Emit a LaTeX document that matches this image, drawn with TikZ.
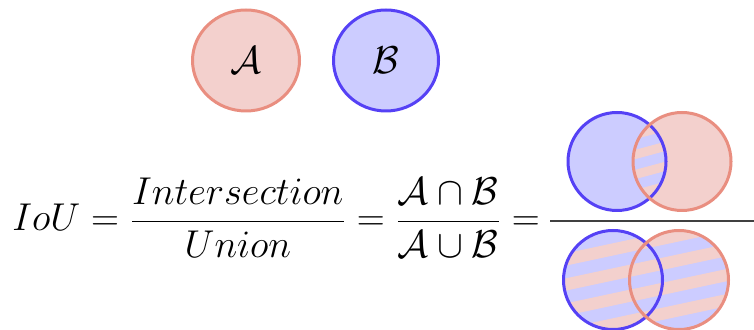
\RequirePackage{fix-cm}
\documentclass[tikz,border=0pt]{standalone}
\usetikzlibrary{shapes.geometric}
\definecolor{sfill}{RGB}{243,208,205}
\definecolor{sline}{RGB}{233,142,128}
\definecolor{bfill}{RGB}{204,204,255}
\definecolor{bline}{RGB}{85,65,245}
\begin{document}
\begin{tikzpicture}[x=0.5pt,y=-0.5pt,
  setA/.style={ellipse, draw=sline, fill=sfill, line width=1.5pt, inner sep=0pt},
  setB/.style={ellipse, draw=bline, fill=bfill, line width=1.5pt, inner sep=0pt},
  bigtext/.style={font=\fontsize{19.4}{23}\selectfont},
  stripe/.style={draw=sfill, line width=4.5pt},
  wstripe/.style={draw=sfill, line width=6pt},
  outB/.style={draw=bline, line width=1.5pt},
  outA/.style={draw=sline, line width=1.5pt}]
\useasboundingbox (0,0) rectangle (754,330);
% top sets
\node[setA, bigtext, minimum width=53.5pt, minimum height=50.5pt] (A) at (246,60.5) {$\mathcal{A}$};
\node[setB, bigtext, minimum width=52.5pt, minimum height=50.5pt] (B) at (386,60.5) {$\mathcal{B}$};
% formula
\node[bigtext, anchor=base west, inner sep=0pt] (eq) at (12,231) {$\displaystyle IoU=\frac{Intersection}{Union}=\frac{\mathcal{A}\cap\mathcal{B}}{\mathcal{A}\cup\mathcal{B}}=$};
\coordinate (barL) at (550,221);
\coordinate (barR) at (754,221);
\draw[line width=1pt, black!75] (barL) -- (barR);
% intersection (numerator)
\fill[bfill] (617,161.5) circle[radius=24.5pt];
\fill[sfill] (682,161.5) circle[radius=24.5pt];
\begin{scope}
  \clip (617,161.5) circle[radius=24.5pt];
  \clip (682,161.5) circle[radius=24.5pt];
  \fill[bfill] (560,100) rectangle (740,230);
  \foreach \k in {0,...,14} {
    \draw[stripe] (540,{60+\k*20}) -- (760,{60+\k*20-59});
  }
\end{scope}
\draw[outB] (617,161.5) circle[radius=24.5pt];
\draw[outA] (682,161.5) circle[radius=24.5pt];
% union (denominator)
\begin{scope}
  \clip (613,280) circle[radius=24.75pt] (679,280) circle[radius=24.75pt];
  \fill[bfill] (550,220) rectangle (754,340);
  \foreach \k in {0,...,14} {
    \draw[wstripe] (540,{190+\k*25}) -- (760,{190+\k*25-47});
  }
\end{scope}
\draw[outB] (613,280) circle[radius=24.75pt];
\draw[outA] (679,280) circle[radius=24.75pt];
\end{tikzpicture}
\end{document}
